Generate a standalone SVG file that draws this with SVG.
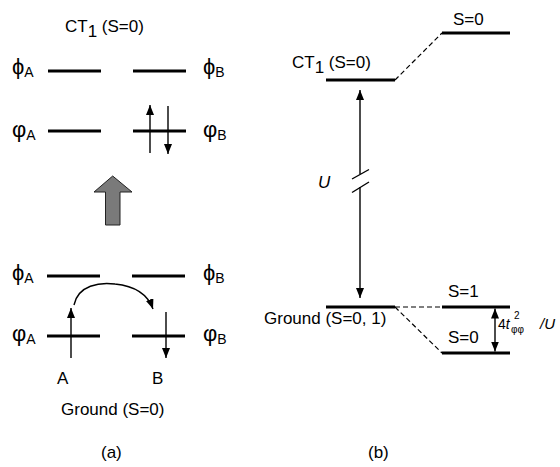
<svg xmlns="http://www.w3.org/2000/svg" width="560" height="467" viewBox="0 0 560 467">
<defs>
<marker id="ah" viewBox="0 0 10 8" refX="10" refY="4" markerWidth="10" markerHeight="8" markerUnits="userSpaceOnUse" orient="auto">
<path d="M0,0 L10,4 L0,8 z" fill="#000"/>
</marker>
</defs>
<style>
text{font-family:"Liberation Sans",Arial,sans-serif;fill:#000}
.t{font-size:17px}
.phi{font-size:22px}
.sub{font-size:14px}
.lvl{stroke:#000;stroke-width:3;fill:none}
.arr{stroke:#000;stroke-width:1.4;fill:none;marker-end:url(#ah)}
.dash{stroke:#000;stroke-width:1.2;stroke-dasharray:5,3;fill:none}
</style>
<rect width="560" height="467" fill="#fff"/>

<g id="panel-a-ct">
<text class="t" x="65" y="32">CT<tspan dy="5">1</tspan><tspan dy="-5"> (S=0)</tspan></text>
<line class="lvl" x1="48" y1="71" x2="101" y2="71"/>
<line class="lvl" x1="133" y1="71" x2="186" y2="71"/>
<line class="lvl" x1="48" y1="131" x2="101" y2="131"/>
<line class="lvl" x1="133" y1="131" x2="186" y2="131"/>
<text class="phi" x="12" y="74">ϕ<tspan class="sub" dy="3">A</tspan></text>
<text class="phi" x="203" y="74">ϕ<tspan class="sub" dy="3">B</tspan></text>
<text class="phi" x="12" y="137">φ<tspan class="sub" dy="3">A</tspan></text>
<text class="phi" x="203" y="137">φ<tspan class="sub" dy="3">B</tspan></text>
</g>

<g id="grey-arrow">
<polygon points="112.7,176 132,192 120,192 120,225 105.5,225 105.5,192 94,192" fill="#7a7a7a" stroke="#222" stroke-width="1"/>
</g>

<g id="panel-a-ground">
<line class="lvl" x1="47" y1="276" x2="100" y2="276"/>
<line class="lvl" x1="132" y1="276" x2="185" y2="276"/>
<line class="lvl" x1="47" y1="336" x2="100" y2="336"/>
<line class="lvl" x1="132" y1="336" x2="185" y2="336"/>
<text class="phi" x="12" y="280">ϕ<tspan class="sub" dy="3">A</tspan></text>
<text class="phi" x="203" y="280">ϕ<tspan class="sub" dy="3">B</tspan></text>
<text class="phi" x="12" y="341">φ<tspan class="sub" dy="3">A</tspan></text>
<text class="phi" x="203" y="341">φ<tspan class="sub" dy="3">B</tspan></text>
<text class="t" x="57" y="384">A</text>
<text class="t" x="152" y="384">B</text>
<text class="t" x="61" y="415">Ground (S=0)</text>
<text class="t" x="101" y="458">(a)</text>
</g>

<g id="panel-b-ct">
<text class="t" x="292" y="68">CT<tspan dy="5">1</tspan><tspan dy="-5"> (S=0)</tspan></text>
<line class="lvl" x1="326" y1="80" x2="395" y2="80"/>
</g>
<g id="panel-b-ct-split">
<text class="t" x="453" y="25">S=0</text>
<line class="lvl" x1="442" y1="33" x2="510" y2="33"/>
</g>
<g id="panel-b-ground">
<text class="t" x="264" y="324">Ground (S=0, 1)</text>
<line class="lvl" x1="326" y1="307" x2="395" y2="307"/>
</g>
<g id="panel-b-s1">
<text class="t" x="448" y="297">S=1</text>
<line class="lvl" x1="442" y1="307" x2="510" y2="307"/>
</g>
<g id="panel-b-s0">
<text class="t" x="448" y="343">S=0</text>
<line class="lvl" x1="442" y1="353" x2="510" y2="353"/>
</g>
<g id="labels-b">
<text class="t" x="318" y="188" font-style="italic">U</text>
<text x="498" y="329" font-size="14">4<tspan font-style="italic">t</tspan><tspan x="511" dy="4" font-size="10">φφ</tspan><tspan x="514" dy="-14" font-size="10">2</tspan><tspan x="540" dy="10" font-size="15" font-style="italic">/U</tspan></text>
<text class="t" x="368" y="458">(b)</text>
</g>

<g id="connectors">
<line class="arr" x1="150" y1="153" x2="150" y2="105"/>
<line class="arr" x1="168" y1="106" x2="168" y2="154"/>
<line class="arr" x1="71" y1="358" x2="71" y2="308"/>
<line class="arr" x1="166" y1="312" x2="166" y2="358"/>
<path class="arr" d="M74,305 C78,285 100,282 115,284 C135,286 148,295 153,309"/>
<line class="dash" x1="395" y1="80" x2="442" y2="33"/>
<line class="dash" x1="395" y1="307" x2="442" y2="307"/>
<line class="dash" x1="395" y1="307" x2="442" y2="353"/>
<line class="arr" x1="360" y1="174" x2="360" y2="90"/>
<line class="arr" x1="360" y1="187" x2="360" y2="298"/>
<line stroke="#000" stroke-width="1.4" x1="352" y1="179" x2="369" y2="169.5"/>
<line stroke="#000" stroke-width="1.4" x1="352" y1="192.5" x2="369" y2="182"/>
<line class="arr" x1="495" y1="330" x2="495" y2="308.5"/>
<line class="arr" x1="495" y1="330" x2="495" y2="351.5"/>
</g>
</svg>
